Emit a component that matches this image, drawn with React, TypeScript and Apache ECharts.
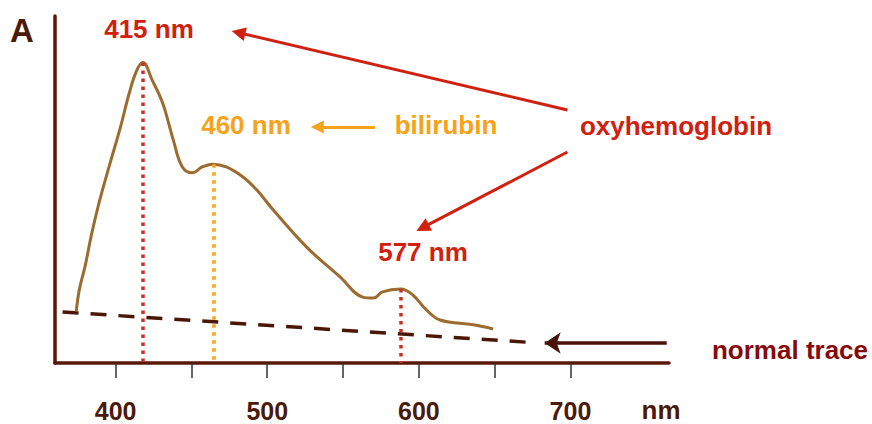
import React, { useEffect, useRef } from "react";
import * as echarts from "echarts";

// Spectrum (wavelength in nm, absorbance in arbitrary units)
const wavelengths = [374, 376, 380, 384, 389, 396, 403, 409, 414, 418, 424, 431, 438, 444, 451, 457, 464, 473, 484, 493, 504, 526, 548, 563, 570, 576, 588, 596, 605, 614, 636, 649];
const absorbance = [14.8, 21.0, 28.2, 36.9, 46.1, 57.1, 67.7, 77.8, 84.4, 86.6, 81.6, 74.9, 64.3, 56.5, 54.8, 56.5, 57.3, 56.5, 53.6, 49.9, 44.1, 33.4, 24.8, 19.0, 18.7, 20.5, 21.3, 19.6, 15.3, 12.4, 11.0, 9.8];

// Normal trace (dashed baseline)
const normalWl = [365, 671];
const normalAbs = [14.7, 6.0];

// Peak markers
const peakWl = [418, 465, 588];
const peakAbs = [86.6, 57.3, 21.3];

// Axis ticks
const tickValues = [400, 450, 500, 550, 600, 650, 700];
const tickLabels = [400, 500, 600, 700];

const FONT = '"Liberation Sans", Arial, sans-serif';
const RED = "#d0200f";
const ORANGE = "#f7a21b";
const BROWN = "#5a1808";

export default function App() {
  const ref = useRef<HTMLDivElement>(null);
  useEffect(() => {
    document.body.style.margin = "0";
    const chart = echarts.init(ref.current!, null, { renderer: "svg" });
    const txt = (text: string, x: number, y: number, fill: string, size = 26) => ({
      type: "text",
      x,
      y,
      style: {
        text,
        fill,
        font: `bold ${size}px ${FONT}`,
        textAlign: "center",
        textVerticalAlign: "middle",
      },
    });
    const arrow = (from: number[], to: number[], color: string, width: number, symbol: string, size: number) => [
      {
        coord: from,
        symbol: "none",
        lineStyle: { color, width, type: "solid" },
      },
      { coord: to, symbol, symbolSize: size },
    ];
    chart.setOption({
      animation: false,
      grid: { left: 55, right: 203, top: 16, bottom: 61 },
      xAxis: {
        type: "value",
        min: 360,
        max: 765,
        axisLine: { show: true, onZero: false, lineStyle: { color: BROWN, width: 3.5 } },
        axisTick: {
          show: true,
          customValues: tickValues,
          length: 15,
          inside: false,
          lineStyle: { color: "#333333", width: 1.5 },
        },
        axisLabel: {
          customValues: tickLabels,
          margin: 35,
          color: "#4a1a0a",
          fontFamily: FONT,
          fontWeight: "bold",
          fontSize: 25,
        },
        splitLine: { show: false },
      },
      yAxis: {
        type: "value",
        min: 0,
        max: 100,
        axisLine: { show: true, lineStyle: { color: BROWN, width: 3.5 } },
        axisTick: { show: false },
        axisLabel: { show: false },
        splitLine: { show: false },
      },
      series: [
        {
          type: "line",
          name: "normal",
          data: normalWl.map((w, i) => [w, normalAbs[i]]),
          symbol: "none",
          lineStyle: { color: "#4a1606", width: 3.5, type: [16, 12] },
          z: 2,
        },
        {
          type: "line",
          name: "spectrum",
          data: wavelengths.map((w, i) => [w, absorbance[i]]),
          symbol: "none",
          smooth: 0.4,
          lineStyle: { color: "#9b6b2f", width: 3 },
          z: 4,
          markLine: {
            silent: true,
            symbol: "none",
            label: { show: false },
            data: peakWl.map((w, i) => [
              {
                coord: [w, peakAbs[i]],
                lineStyle: {
                  color: i === 1 ? ORANGE : "#c4302a",
                  width: 3.5,
                  type: [3.5, 4.5],
                },
              },
              { coord: [w, 0] },
            ]),
          },
        },
        {
          type: "line",
          name: "annotations",
          data: [],
          markLine: {
            silent: true,
            label: { show: false },
            data: [
              arrow([698, 72.9], [481, 95.2], RED, 3, "triangle", 14),
              arrow([698, 60.8], [602.5, 39.0], RED, 3, "triangle", 14),
              arrow([571, 68.0], [533, 68.0], ORANGE, 3, "triangle", 13),
              arrow([763.5, 5.76], [683, 5.76], "#4a1208", 3.5, "arrow", 16),
            ],
          },
        },
      ],
      graphic: [
        txt("A", 22, 30, "#4a1a0a", 33),
        txt("415 nm", 149, 29, RED),
        txt("460 nm", 246, 125, ORANGE),
        txt("bilirubin", 446, 125, ORANGE),
        txt("oxyhemoglobin", 676, 126, RED),
        txt("577 nm", 423, 252, RED),
        txt("normal trace", 790, 350, "#860a0a"),
        txt("nm", 661, 410, "#4a1a0a", 26),
      ],
    });
    return () => chart.dispose();
  }, []);
  return <div ref={ref} style={{ width: 872, height: 424 }} />;
}
